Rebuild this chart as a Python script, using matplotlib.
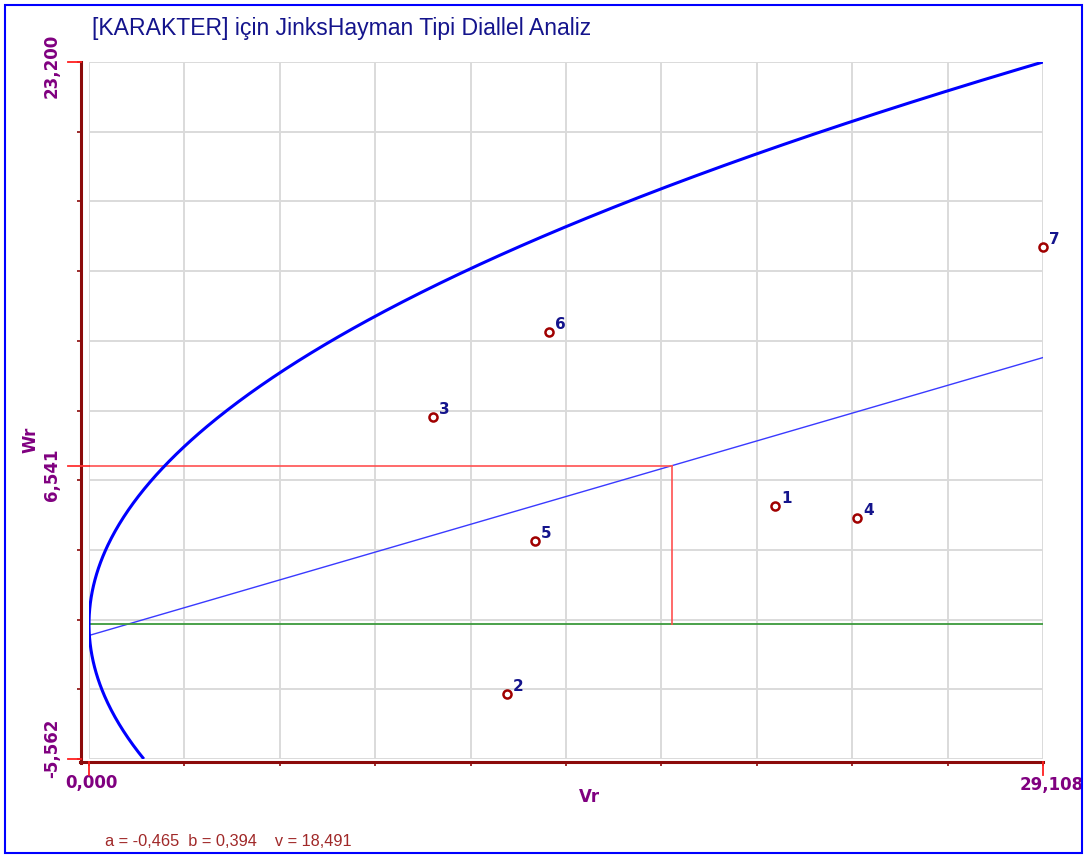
import numpy as np
import matplotlib
matplotlib.use("Agg")
import matplotlib.pyplot as plt
from matplotlib.lines import Line2D
from matplotlib.patches import Rectangle
import matplotlib.transforms as mtransforms

# Parent arrays: variance (Vr) and covariance (Wr) per parent
parents = ["1", "2", "3", "4", "5", "6", "7"]
vr = [20.93, 12.75, 10.50, 23.43, 13.61, 14.04, 29.108]
wr = [4.88, -2.88, 8.55, 4.38, 3.43, 12.06, 15.57]

# Regression coefficients and V0L0
a_coef = -0.465
b_coef = 0.394
v_par = 18.491
wr_mean = 6.541

x_min, x_max = 0.0, 29.108
y_min, y_max = -5.562, 23.200

x_labels = ["0,000", "29,108"]
y_labels = ["-5,562", "6,541", "23,200"]

W_PX, H_PX = 1089, 856
DPI = 100
fig = plt.figure(figsize=(W_PX / DPI, H_PX / DPI), dpi=DPI)
fig.patch.set_facecolor("white")

# plot area in pixels
L, R, T, B = 89, 1043, 62, 759
AW, AH = R - L, B - T
ax = fig.add_axes([L / W_PX, 1 - B / H_PX, AW / W_PX, AH / H_PX])
ax.set_xlim(x_min, x_max)
ax.set_ylim(y_min, y_max)

AXIS_RED = "#8b0a0a"
PURPLE = "#800080"
NAVY = "#14148c"

# grid
ax.set_xticks(np.linspace(x_min, x_max, 11))
ax.set_yticks(np.linspace(y_min, y_max, 11))
ax.grid(True, color="#dadada", lw=1.4, zorder=0)
ax.set_axisbelow(True)
ax.tick_params(axis="both", which="major", direction="out", length=3.0,
               width=1.2, color=AXIS_RED, labelbottom=False, labelleft=False)

# offset axis lines
for side in ["top", "right"]:
    ax.spines[side].set_visible(False)
ax.spines["left"].set_position(("outward", 8 * 72 / DPI))
ax.spines["bottom"].set_position(("outward", 3 * 72 / DPI))
for side in ["left", "bottom"]:
    ax.spines[side].set_color(AXIS_RED)
    ax.spines[side].set_linewidth(2.2)
    ax.spines[side].set_clip_on(False)
ax.spines["left"].set_bounds(y_min - 3.5 / AH * (y_max - y_min), y_max)
ax.spines["bottom"].set_bounds(x_min - 9 / AW * (x_max - x_min), x_max)

# parabola limit: Wr^2 = Vr * V0L0
wr_curve = np.linspace(y_min, y_max, 600)
vr_curve = wr_curve ** 2 / v_par
ax.plot(vr_curve, wr_curve, color="#0000ff", lw=2.2, zorder=4,
        solid_capstyle="butt")

# regression line
xs = np.array([x_min, x_max])
ax.plot(xs, a_coef + b_coef * xs, color="#3a3aff", lw=1.0, zorder=3)

# Wr = 0 line
ax.axhline(0.0, color="#3c9a3c", lw=1.3, zorder=3)

# mean marker lines
x_at_mean = (wr_mean - a_coef) / b_coef
ax.plot([x_min, x_at_mean], [wr_mean, wr_mean], color="#ff5050", lw=1.4,
        alpha=0.85, zorder=3)
ax.plot([x_at_mean, x_at_mean], [wr_mean, 0.0], color="#ff5050", lw=1.4,
        alpha=0.85, zorder=3)

# red end ticks
bx = mtransforms.blended_transform_factory(ax.transData, ax.transAxes)
by = mtransforms.blended_transform_factory(ax.transAxes, ax.transData)
for xv in [x_min, x_max]:
    ax.add_line(Line2D([xv, xv], [-3 / AH, -16 / AH], transform=bx,
                       color="#ff2020", lw=1.3, clip_on=False, zorder=5))
for yv in [y_min, y_max]:
    ax.add_line(Line2D([-21 / AW, -8 / AW], [yv, yv], transform=by,
                       color="#ff2020", lw=1.3, clip_on=False, zorder=5))
ax.add_line(Line2D([-21 / AW, 0], [wr_mean, wr_mean], transform=by,
                   color="#ff3030", lw=1.3, clip_on=False, zorder=5))

# points and numbers
ax.plot(vr, wr, linestyle="none", marker="o", ms=5.8, mew=1.8,
        mfc="white", mec="#a00000", zorder=6, clip_on=False)
for name, xv, yv in zip(parents, vr, wr):
    ax.annotate(name, (xv, yv), xytext=(4.5, 2.0), textcoords="offset points",
                ha="left", va="baseline", color=NAVY, fontsize=11,
                fontweight="bold", fontfamily="DejaVu Sans", zorder=7,
                annotation_clip=False)

# axis value labels
lab_kw = dict(color=PURPLE, fontsize=12, fontweight="bold",
              fontfamily="DejaVu Sans")
ax.text(x_min + 2 / AW * (x_max - x_min), -24 / AH, x_labels[0],
        transform=bx, ha="center", va="center", **lab_kw)
ax.text((1020 - L) / AW, -26 / AH, x_labels[1], transform=ax.transAxes,
        ha="left", va="center", **lab_kw)
ax.text((52 - L) / AW, (B - 748) / AH, y_labels[0], transform=ax.transAxes,
        rotation=90, ha="center", va="center", **lab_kw)
ax.text((52 - L) / AW, (B - 475) / AH, y_labels[1], transform=ax.transAxes,
        rotation=90, ha="center", va="center", **lab_kw)
ax.text((52 - L) / AW, (B - 66) / AH, y_labels[2], transform=ax.transAxes,
        rotation=90, ha="center", va="center", **lab_kw)

# axis names
fig.text(589 / W_PX, 1 - 797 / H_PX, "Vr", ha="center", va="center", **lab_kw)
fig.text(30 / W_PX, 1 - 440 / H_PX, "Wr", ha="center", va="center",
         rotation=90, **lab_kw)

# title and coefficient footer
fig.text(92 / W_PX, 1 - 28 / H_PX,
         "[KARAKTER] için JinksHayman Tipi Diallel Analiz",
         ha="left", va="center", color=NAVY, fontsize=16.6,
         fontfamily="Liberation Sans")
fig.text(105 / W_PX, 1 - 841 / H_PX,
         "a = -0,465  b = 0,394    v = 18,491",
         ha="left", va="center", color="#a02828", fontsize=11.8,
         fontfamily="Liberation Sans")

# outer frame
fig.add_artist(Rectangle((5 / W_PX, 1 - 853 / H_PX), 1077 / W_PX, 848 / H_PX,
                         transform=fig.transFigure, fill=False,
                         edgecolor="#0000ff", lw=1.5))

fig.savefig("out.png", dpi=DPI, facecolor="white")
